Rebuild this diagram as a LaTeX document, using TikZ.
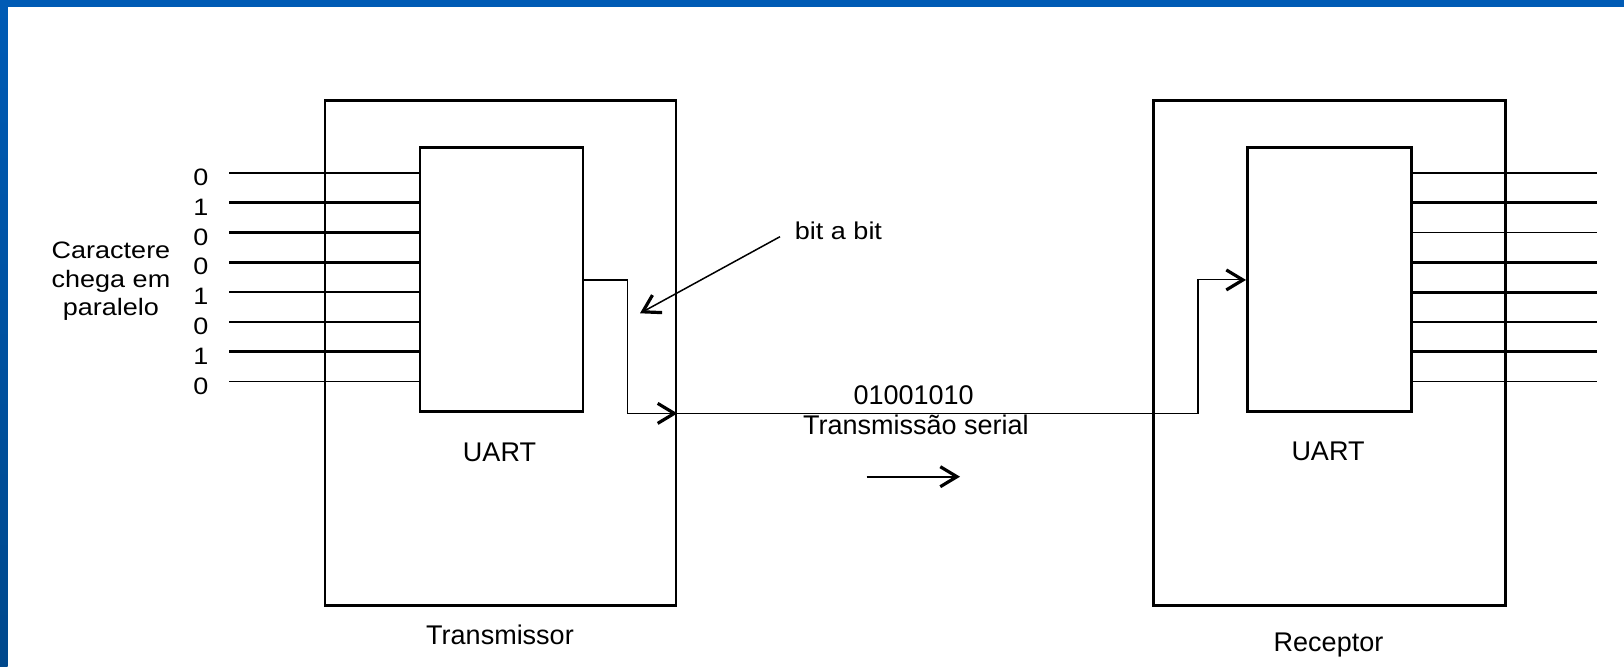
\documentclass[tikz,border=0pt]{standalone}
\usepackage{fontspec}
\setmainfont{Liberation Sans}
\usepackage{graphicx}
\usetikzlibrary{arrows.meta}
\definecolor{slideblue}{RGB}{0,91,181}
\definecolor{slidebluedark}{RGB}{0,72,140}
\tikzset{
  box/.style={draw=black, line width=1.45pt, inner sep=0pt, anchor=north west},
  lbl/.style={inner sep=0pt, font=\fontsize{13.5}{16}\selectfont, anchor=base},
  barb/.style={-{Straight Barb[length=8.3pt,width=10pt,line width=1.6pt]}},
  serial/.style={line width=0.85pt},
  serialthin/.style={line width=0.55pt},
}
\newcommand{\squash}[2]{\scalebox{1}[#1]{#2}}
\begin{document}
\begin{tikzpicture}[x=0.5pt,y=-0.5pt]
\useasboundingbox (0,0) rectangle (1624,667);
\fill[white] (0,0) rectangle (1624,667);
\shade[top color=slideblue, bottom color=slidebluedark] (0,0) rectangle (7.5,667);
\fill[slideblue] (0,0) rectangle (1624,7);

% boxes
\node[box, minimum width=175.5pt, minimum height=252.5pt] (txo) at (323.5,99) {};
\node[box, minimum width=81.5pt, minimum height=132pt] (txi) at (418.5,146.5) {};
\node[box, minimum width=176pt, minimum height=252.5pt] (rxo) at (1152,99) {};
\node[box, minimum width=82pt, minimum height=132pt] (rxi) at (1246,146.5) {};

% parallel lines
\foreach \i/\b/\w/\v in {0/0/0.6/0.6, 1/1/1.4/1.4, 2/0/1.15/0.65, 3/0/1.4/1.4, 4/1/1.15/1.35, 5/0/0.95/1.0, 6/1/1.4/1.35, 7/0/0.6/0.65}{
  \coordinate (in\i) at (229,173+29.8*\i);
  \coordinate (out\i) at (1597,173+29.8*\i);
  \draw[line width=\w pt] (in\i) -- (in\i -| txi.west);
  \draw[line width=\v pt] (rxi.east |- out\i) -- (out\i);
  \node[lbl] (b\i) at (201,185.5+29.8*\i) {\squash{0.88}{\b}};
}

% left label
\node[lbl] (car1) at (111,259) {\squash{0.88}{Caractere}};
\node[lbl] (car2) at (111,287.5) {\squash{0.88}{chega em}};
\node[lbl] (car3) at (111,316) {\squash{0.88}{paralelo}};

% serial path
\draw[serial, barb] (txi.east) -- ++(43,0) |- (txo.east |- txi.south);
\draw[serial] (txo.east |- txi.south) -- (rxo.west |- txi.south);
\draw[serialthin, barb] (rxo.west |- txi.south) -| ([xshift=-24pt]rxi.west) -- (rxi.west);

% labels
\node[lbl] (uart1) at (499.5,461.5) {UART};
\node[lbl] (uart2) at (1328,461) {UART};
\node[lbl] (txl) at (500,645) {Transmissor};
\node[lbl] (rxl) at (1328.5,651.5) {Receptor};
\node[lbl] (bab) at (838.5,239.3) {\squash{0.9}{bit a bit}};
\node[lbl] (bits) at (913.7,404.3) {01001010};
\node[lbl] (ts) at (916,435) {Transmissão serial};

% bit a bit arrow
\coordinate (babs) at (780,236.7);
\coordinate (babe) at (640,313.3);
\draw[line width=0.75pt, barb] (babs) -- (babe);

% direction arrow
\coordinate (dira) at (866.7,476.7);
\coordinate (dirb) at (960,476.7);
\draw[line width=1.1pt, barb] (dira) -- (dirb);
\end{tikzpicture}
\end{document}
